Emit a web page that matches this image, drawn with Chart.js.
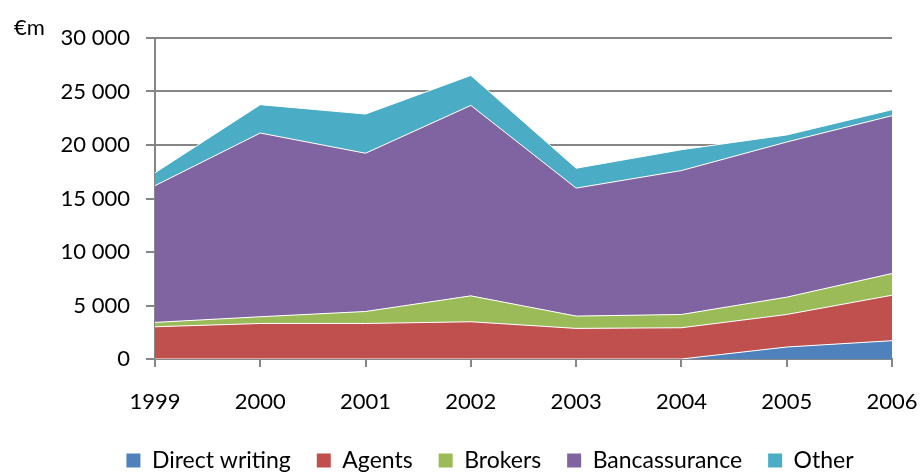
<!DOCTYPE html>
<html>
<head>
<meta charset="utf-8">
<script src="https://cdn.jsdelivr.net/npm/chart.js@4"></script>
<style>
    html, body { margin: 0; padding: 0; background: #fff; }
    #wrap { position: relative; width: 922px; height: 472px; }
    #unit { position: absolute; left: 14px; top: 13px; font: 22px Lato, sans-serif; color: #000; }
</style>
</head>
<body>
<div id="wrap">
    <canvas id="chart" width="922" height="472"></canvas>
    <div id="unit">€m</div>
</div>
<script>
const years = ["1999", "2000", "2001", "2002", "2003", "2004", "2005", "2006"];

// €m per channel
const direct_writing = [0, 0, 0, 0, 0, 0, 1120, 1710];
const agents = [3010, 3320, 3320, 3480, 2860, 2920, 3040, 4250];
const brokers = [410, 630, 1120, 2420, 1150, 1240, 1620, 2030];
const bancassurance = [12780, 17170, 14790, 17800, 11960, 13450, 14500, 14750];
const other = [1200, 2650, 3660, 2800, 1860, 1950, 660, 560];

const y_ticks = [0, 5000, 10000, 15000, 20000, 25000, 30000];

const series_names = ["Direct writing", "Agents", "Brokers", "Bancassurance", "Other"];
const series_values = [direct_writing, agents, brokers, bancassurance, other];
const series_colors = ["#4f81bd", "#c0504d", "#9bbb59", "#8064a2", "#4bacc6"];

const font = { family: "Lato, sans-serif", size: 22 };
const legendFont = { family: "Lato, sans-serif", size: 23 };
const axisGray = "#868686";

function formatThousands(v) {
    return String(v).replace(/\B(?=(\d{3})+(?!\d))/g, " ");    // 30000 -> "30 000"
}

let datasets = series_names.map((name, i) => ({
    label: name,
    data: series_values[i],
    backgroundColor: series_colors[i],
    borderColor: "#ffffff",
    borderWidth: 1,
    pointRadius: 0,
    tension: 0,
    fill: i === 0 ? "origin" : "-1"
}));

// the legend in the original sits a bit right of the page centre
const shiftLegend = {
    id: "shiftLegend",
    afterLayout(chart) {
        chart.legend.left += 44;
        chart.legend.right += 44;
    }
};

new Chart("chart", {
    type: "line",
    data: { labels: years, datasets },
    plugins: [shiftLegend],
    options: {
        responsive: false,
        animation: false,
        layout: { padding: { top: 38, right: 30, left: 0, bottom: -10 } },   // negative bottom pushes the legend down
        plugins: {
            tooltip: { enabled: false },
            legend: {
                position: "bottom",
                labels: {
                    color: "#000",
                    font: legendFont,
                    boxWidth: 14,
                    boxHeight: 14,
                    padding: 26,
                    generateLabels: chart => chart.data.datasets.map((ds, i) => ({
                        text: ds.label,
                        fillStyle: ds.backgroundColor,
                        strokeStyle: ds.backgroundColor,
                        lineWidth: 0,
                        datasetIndex: i
                    }))
                }
            }
        },
        scales: {
            x: {
                offset: false,
                grid: { drawOnChartArea: false, color: axisGray, lineWidth: 2, tickLength: 8 },
                border: { color: axisGray, width: 2 },
                ticks: { color: "#000", font, padding: 22, maxRotation: 0 },
                afterFit: scale => {
                    scale.height = 64;
                    scale.paddingLeft = 0;
                    scale.paddingRight = 0;
                }
            },
            y: {
                stacked: true,
                min: 0,
                max: 30000,
                afterBuildTicks: scale => { scale.ticks = y_ticks.map(v => ({ value: v })); },
                grid: { color: axisGray, lineWidth: 2, tickLength: 9 },
                border: { color: axisGray, width: 2 },
                ticks: { color: "#000", font, padding: 16, callback: v => formatThousands(v) },
                afterFit: scale => { scale.width = 155; }
            }
        }
    }
});
</script>
</body>
</html>
